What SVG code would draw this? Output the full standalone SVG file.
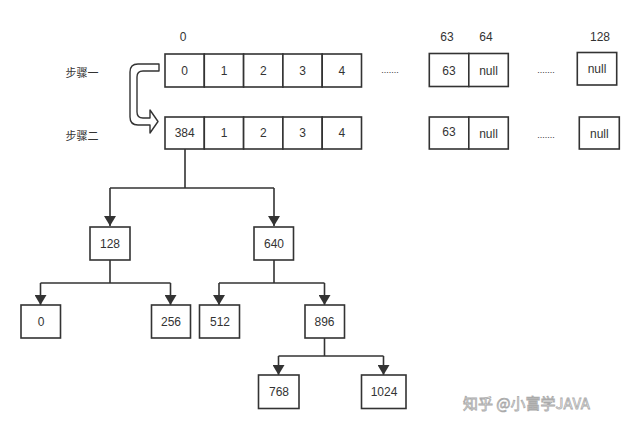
<svg xmlns="http://www.w3.org/2000/svg" width="640" height="429" viewBox="0 0 640 429">
<defs>
<style>
.b{fill:#fff;stroke:#333;stroke-width:1.6}
.t{font-family:"Liberation Sans","Noto Sans CJK SC",sans-serif;font-size:12px;fill:#333;text-anchor:middle;dominant-baseline:central}
.c{font-family:"Noto Sans CJK SC",sans-serif;font-size:11px;fill:#333;text-anchor:middle;dominant-baseline:central}
.l{fill:none;stroke:#333;stroke-width:1.6}
.d{font-family:"Liberation Sans",sans-serif;font-size:9px;fill:#333;text-anchor:middle;dominant-baseline:central}
.w{font-family:"Noto Sans CJK SC",sans-serif;font-size:15px;fill:#fff;stroke:#aaa;stroke-width:0.8;dominant-baseline:central}
</style>
<marker id="ah" viewBox="0 0 10 12" refX="10" refY="6" markerWidth="10" markerHeight="12" markerUnits="userSpaceOnUse" orient="auto">
<path d="M0,0 L10,6 L0,12 Z" fill="#333"/>
</marker>
</defs>
<rect width="640" height="429" fill="#fff"/>

<g id="labels">
<text class="t" x="183" y="37">0</text>
<text class="t" x="447" y="37">63</text>
<text class="t" x="486" y="37">64</text>
<text class="t" x="600" y="37">128</text>
<text class="c" x="82" y="72">步骤一</text>
<text class="c" x="82" y="135">步骤二</text>
<text class="d" x="390" y="70">.......</text>
<text class="d" x="546" y="70">.......</text>
<text class="d" x="546" y="135">.......</text>
</g>

<g id="step-arrow">
<path d="M159,64 L138,64 Q130,64 130,72 L130,117 Q130,125 138,125 L150,125 L150,133 L158,121.5 L150,110 L150,118 L143,118 Q137,118 137,112 L137,77 Q137,71 143,71 L159,71 Z" fill="#fff" stroke="#333" stroke-width="1.4" stroke-linejoin="round"/>
</g>

<g id="row1">
<rect class="b" x="165" y="54" width="39.3" height="33"/><text class="t" x="184.7" y="71">0</text>
<rect class="b" x="204.3" y="54" width="39.3" height="33"/><text class="t" x="224" y="71">1</text>
<rect class="b" x="243.6" y="54" width="39.3" height="33"/><text class="t" x="263.3" y="71">2</text>
<rect class="b" x="282.9" y="54" width="39.3" height="33"/><text class="t" x="302.6" y="71">3</text>
<rect class="b" x="322.2" y="54" width="39.3" height="33"/><text class="t" x="341.9" y="71">4</text>
<rect class="b" x="429.3" y="53.5" width="39.5" height="33"/><text class="t" x="449" y="71">63</text>
<rect class="b" x="468.8" y="53.5" width="39.5" height="33"/><text class="t" x="488.5" y="71">null</text>
<rect class="b" x="577.3" y="52.5" width="39.4" height="32.5"/><text class="t" x="597" y="69">null</text>
</g>

<g id="row2">
<rect class="b" x="165" y="117" width="39.3" height="32"/><text class="t" x="184.7" y="133">384</text>
<rect class="b" x="204.3" y="117" width="39.3" height="32"/><text class="t" x="224" y="133">1</text>
<rect class="b" x="243.6" y="117" width="39.3" height="32"/><text class="t" x="263.3" y="133">2</text>
<rect class="b" x="282.9" y="117" width="39.3" height="32"/><text class="t" x="302.6" y="133">3</text>
<rect class="b" x="322.2" y="117" width="39.3" height="32"/><text class="t" x="341.9" y="133">4</text>
<rect class="b" x="429.3" y="117" width="39.5" height="32"/><text class="t" x="449" y="132">63</text>
<rect class="b" x="468.8" y="117" width="39.5" height="32"/><text class="t" x="488.5" y="134">null</text>
<rect class="b" x="579.3" y="117" width="40" height="32"/><text class="t" x="599.3" y="134">null</text>
</g>

<g id="connectors">
<path class="l" d="M185,149 L185,188 M110,188 L274,188"/>
<path class="l" d="M110,188 L110,226" marker-end="url(#ah)"/>
<path class="l" d="M274,188 L274,226" marker-end="url(#ah)"/>
<path class="l" d="M110,260 L110,283 M40.5,283 L170.5,283"/>
<path class="l" d="M40.5,283 L40.5,305" marker-end="url(#ah)"/>
<path class="l" d="M170.5,283 L170.5,305" marker-end="url(#ah)"/>
<path class="l" d="M274,260 L274,283 M219,283 L324.5,283"/>
<path class="l" d="M219,283 L219,305" marker-end="url(#ah)"/>
<path class="l" d="M324.5,283 L324.5,305" marker-end="url(#ah)"/>
<path class="l" d="M324.5,338 L324.5,356 M278.5,356 L383.5,356"/>
<path class="l" d="M278.5,356 L278.5,375" marker-end="url(#ah)"/>
<path class="l" d="M383.5,356 L383.5,375" marker-end="url(#ah)"/>
</g>

<g id="n128"><rect class="b" x="90" y="227" width="40" height="33"/><text class="t" x="110" y="244">128</text></g>
<g id="n640"><rect class="b" x="254" y="227" width="39.5" height="33"/><text class="t" x="274" y="244">640</text></g>
<g id="n0"><rect class="b" x="21" y="305" width="39.5" height="33"/><text class="t" x="41" y="322">0</text></g>
<g id="n256"><rect class="b" x="151.5" y="305" width="39" height="33"/><text class="t" x="171" y="322">256</text></g>
<g id="n512"><rect class="b" x="199.5" y="305" width="40" height="33"/><text class="t" x="220" y="322">512</text></g>
<g id="n896"><rect class="b" x="305" y="305" width="39.5" height="33"/><text class="t" x="324.5" y="322">896</text></g>
<g id="n768"><rect class="b" x="258.5" y="375" width="40.5" height="33.5"/><text class="t" x="279" y="392">768</text></g>
<g id="n1024"><rect class="b" x="361.5" y="375" width="44.5" height="33.5"/><text class="t" x="384" y="392">1024</text></g>

<g id="watermark">
<text class="w" x="463" y="402">知乎 @小富学JAVA</text>
</g>
</svg>
